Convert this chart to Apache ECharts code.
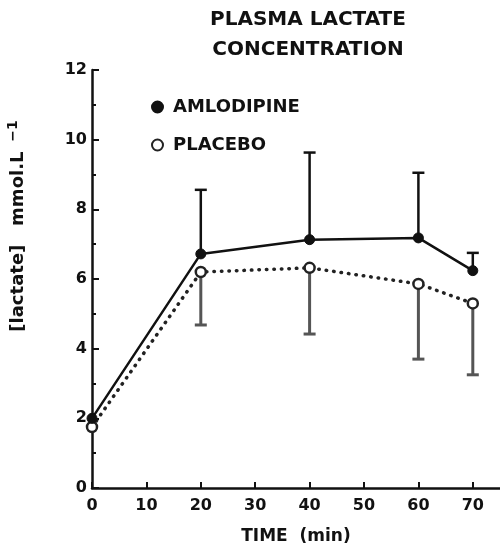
<!DOCTYPE html>
<html>
<head>
<meta charset="utf-8">
<script src="https://cdn.jsdelivr.net/npm/echarts@6/dist/echarts.min.js"></script>
<style>
  html, body { margin: 0; padding: 0; background: #fff; }
  #chart { width: 500px; height: 550px; }
</style>
</head>
<body>
<div id="chart"></div>
<script>
// values
const timeMin = [0, 20, 40, 60, 70]
const amlodipine = [2.0, 6.72, 7.13, 7.18, 6.24]
const amlodipineUpper = [null, 8.56, 9.63, 9.05, 6.75]
const placebo = [1.75, 6.2, 6.32, 5.86, 5.3]
const placeboLower = [null, 4.68, 4.42, 3.7, 3.25]
const xTicks = [0, 10, 20, 30, 40, 50, 60, 70]

const font = 'DejaVu Sans'

const pairs = (xs, ys) => xs.map((x, i) => [x, ys[i]])
const bars = (xs, mean, end) =>
  xs.map((x, i) => [x, mean[i], end[i]]).filter((d) => d[2] != null)

// error bar: stem from mean to end, with a cap
const errorBar = (color, width) => (params, api) => {
  const p0 = api.coord([api.value(0), api.value(1)])
  const p1 = api.coord([api.value(0), api.value(2)])
  const half = 6
  const style = { stroke: color, lineWidth: width }
  return {
    type: 'group',
    children: [
      { type: 'line', shape: { x1: p0[0], y1: p0[1], x2: p1[0], y2: p1[1] }, style },
      { type: 'line', shape: { x1: p1[0] - half, y1: p1[1], x2: p1[0] + half, y2: p1[1] }, style }
    ]
  }
}

const option = {
  animation: false,
  backgroundColor: '#fff',
  title: {
    text: 'PLASMA LACTATE\nCONCENTRATION',
    left: 303,
    top: 0,
    textAlign: 'center',
    textStyle: { fontFamily: font, fontWeight: 'bold', fontSize: 20, lineHeight: 30, color: '#111' }
  },
  legend: {
    data: ['AMLODIPINE', 'PLACEBO'],
    orient: 'vertical',
    left: 146,
    top: 93,
    itemGap: 20,
    itemWidth: 11,
    itemHeight: 11,
    icon: 'circle',
    textStyle: { fontFamily: font, fontWeight: 'bold', fontSize: 18, color: '#111', padding: [0, 0, 0, 5] }
  },
  grid: { left: 92, right: 0, top: 70, bottom: 62, outerBoundsMode: 'none' },
  xAxis: {
    type: 'value',
    min: 0,
    max: 75,
    interval: 10,
    name: 'TIME  (min)',
    nameLocation: 'middle',
    nameGap: 40,
    nameTextStyle: { fontFamily: font, fontWeight: 'bold', fontSize: 17, color: '#111' },
    splitLine: { show: false },
    axisLine: { lineStyle: { color: '#111', width: 2.5 } },
    axisTick: { inside: true, length: 6, customValues: xTicks, lineStyle: { color: '#111', width: 2 } },
    axisLabel: {
      customValues: xTicks,
      margin: 10,
      fontFamily: font, fontWeight: 'bold', fontSize: 16, color: '#111'
    }
  },
  yAxis: {
    type: 'value',
    min: 0,
    max: 12,
    interval: 2,
    splitLine: { show: false },
    axisLine: { show: true, lineStyle: { color: '#111', width: 2.5 } },
    axisTick: { show: true, inside: true, length: 7, lineStyle: { color: '#111', width: 2 } },
    minorTick: { show: true, splitNumber: 2, length: 4, lineStyle: { color: '#111', width: 2 } },
    axisLabel: { margin: 5, fontFamily: font, fontWeight: 'bold', fontSize: 16, color: '#111' }
  },
  graphic: [
    {
      type: 'text',
      x: 18,
      y: 226,
      rotation: Math.PI / 2,
      style: {
        text: '{a|[lactate]   mmol.L}{s|  −1}',
        align: 'center',
        verticalAlign: 'middle',
        rich: {
          a: { fontFamily: font, fontWeight: 'bold', fontSize: 18, fill: '#111' },
          s: { fontFamily: font, fontWeight: 'bold', fontSize: 14, fill: '#111', padding: [0, 0, 10, 0] }
        }
      }
    }
  ],
  series: [
    {
      name: 'amlodipine error',
      type: 'custom',
      renderItem: errorBar('#111', 2.5),
      data: bars(timeMin, amlodipine, amlodipineUpper),
      z: 1
    },
    {
      name: 'placebo error',
      type: 'custom',
      renderItem: errorBar('#555', 3),
      data: bars(timeMin, placebo, placeboLower),
      z: 1
    },
    {
      name: 'PLACEBO',
      type: 'line',
      data: pairs(timeMin, placebo),
      symbol: 'circle',
      symbolSize: 10,
      itemStyle: { color: '#fff', borderColor: '#222', borderWidth: 2.5 },
      lineStyle: { color: '#222', width: 3.5, type: [0.5, 7], cap: 'round' },
      z: 3
    },
    {
      name: 'AMLODIPINE',
      type: 'line',
      data: pairs(timeMin, amlodipine),
      symbol: 'circle',
      symbolSize: 10,
      itemStyle: { color: '#111', borderColor: '#111', borderWidth: 1 },
      lineStyle: { color: '#111', width: 2.5 },
      z: 4
    }
  ]
}

const myChart = echarts.init(document.getElementById('chart'))
myChart.setOption(option)
</script>
</body>
</html>
